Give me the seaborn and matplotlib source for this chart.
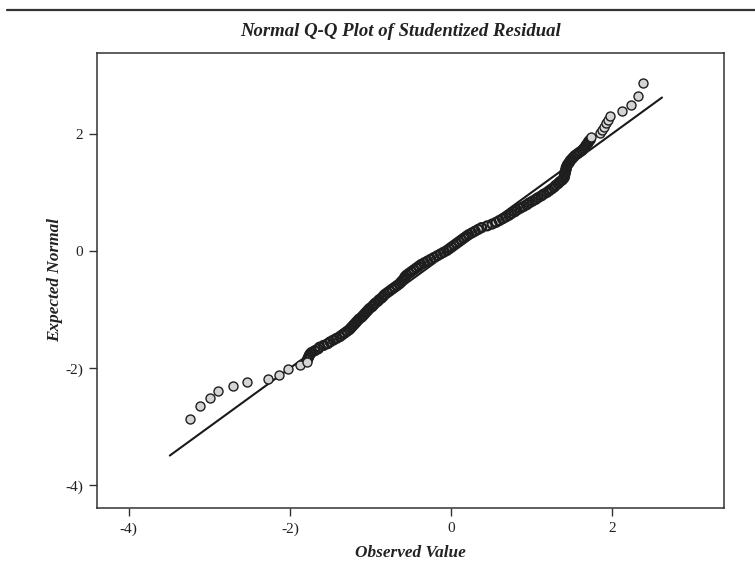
import matplotlib
matplotlib.use("Agg")
import matplotlib.pyplot as plt
import seaborn as sns
import pandas as pd
from matplotlib.lines import Line2D

lower_tail_obs = [-3.24, -3.11, -2.99, -2.89, -2.71, -2.53, -2.27, -2.14, -2.02, -1.87, -1.79]
lower_tail_exp = [-2.86, -2.64, -2.50, -2.39, -2.31, -2.23, -2.18, -2.11, -2.02, -1.94, -1.89]

band_exp = [-1.85, -1.82, -1.79, -1.76, -1.73, -1.70, -1.67, -1.64,
            -1.61, -1.58, -1.55, -1.52, -1.49, -1.46, -1.43, -1.40, -1.37,
            -1.34, -1.31, -1.28, -1.25, -1.22, -1.19, -1.16,
            -1.13, -1.10, -1.07, -1.04, -1.01, -0.98, -0.95, -0.92,
            -0.89, -0.86, -0.83, -0.80, -0.77, -0.74, -0.71,
            -0.68, -0.65, -0.62, -0.59, -0.56, -0.53, -0.50, -0.47, -0.44, -0.41,
            -0.38, -0.35, -0.32, -0.29, -0.26, -0.23, -0.20, -0.17, -0.14, -0.11,
            -0.08, -0.05, -0.02, 0.01, 0.04, 0.07, 0.10, 0.13, 0.16, 0.19, 0.22, 0.25, 0.28,
            0.31, 0.34, 0.37, 0.40, 0.43, 0.46, 0.49, 0.52, 0.55, 0.58,
            0.61, 0.64, 0.67, 0.70, 0.73, 0.76, 0.79, 0.82, 0.85, 0.88,
            0.91, 0.94, 0.97, 1.00, 1.03, 1.06, 1.09, 1.12, 1.15, 1.18, 1.21, 1.24,
            1.27, 1.30, 1.33, 1.36, 1.39, 1.42, 1.45,
            1.48, 1.51, 1.54, 1.57, 1.60, 1.63, 1.66, 1.69, 1.72, 1.75, 1.78, 1.81, 1.84, 1.87, 1.90]
band_obs = [-1.78, -1.77, -1.76, -1.75, -1.73, -1.69, -1.65, -1.63,
            -1.58, -1.53, -1.50, -1.46, -1.42, -1.38, -1.35, -1.32, -1.29,
            -1.26, -1.24, -1.22, -1.20, -1.18, -1.16, -1.14,
            -1.11, -1.09, -1.07, -1.05, -1.03, -1.01, -0.98, -0.96,
            -0.94, -0.91, -0.89, -0.86, -0.84, -0.82, -0.79,
            -0.76, -0.73, -0.70, -0.67, -0.64, -0.62, -0.60, -0.58, -0.57, -0.55,
            -0.52, -0.49, -0.46, -0.43, -0.40, -0.37, -0.33, -0.29, -0.25, -0.21,
            -0.17, -0.13, -0.09, -0.05, -0.02, 0.01, 0.04, 0.07, 0.10, 0.13, 0.16, 0.19, 0.22,
            0.26, 0.30, 0.34, 0.38, 0.45, 0.51, 0.56, 0.60, 0.64, 0.68,
            0.72, 0.75, 0.79, 0.82, 0.86, 0.90, 0.94, 0.97, 1.01, 1.05,
            1.08, 1.12, 1.15, 1.19, 1.22, 1.25, 1.28, 1.30, 1.33, 1.35, 1.38, 1.40,
            1.41, 1.41, 1.42, 1.42, 1.43, 1.43, 1.44,
            1.45, 1.47, 1.48, 1.50, 1.52, 1.54, 1.57, 1.60, 1.63, 1.65, 1.67, 1.68, 1.70, 1.71, 1.73]

upper_tail_obs = [1.74, 1.85, 1.88, 1.90, 1.92, 1.95, 1.97, 2.12, 2.23, 2.32, 2.38]
upper_tail_exp = [1.95, 2.01, 2.06, 2.12, 2.18, 2.23, 2.30, 2.39, 2.50, 2.64, 2.86]

ref_line = [-3.49, 2.62]

x_ticks = [-4, -2, 0, 2]
x_tick_labels = ["-4)", "-2)", "0", "2"]
y_ticks = [-4, -2, 0, 2]
y_tick_labels = ["-4)", "-2)", "0", "2"]

title = "Normal Q-Q Plot of Studentized Residual"
x_label = "Observed Value"
y_label = "Expected Normal"

# ---- build tables ----
tails = pd.DataFrame({
    "observed": lower_tail_obs + upper_tail_obs,
    "expected": lower_tail_exp + upper_tail_exp,
})
band = pd.DataFrame({"observed": band_obs, "expected": band_exp})
line_df = pd.DataFrame({"x": ref_line, "y": ref_line})

sns.set_style("white")
plt.rcParams["font.family"] = ["Liberation Serif", "DejaVu Serif"]

W, H = 755, 579
fig = plt.figure(figsize=(W / 100, H / 100), dpi=100)
ax = fig.add_axes([97.3 / W, 1 - 508.3 / H, (724 - 97.3) / W, (508.3 - 52.7) / H])

FILL = "#d4d4d4"
EDGE = "#1e1e1e"
S = 42

sns.lineplot(data=line_df, x="x", y="y", ax=ax, color="#1a1a1a", linewidth=1.5)
# dense band: fills first, then all outlines on top (overlapping outlines read as a dark band)
sns.scatterplot(data=band, x="observed", y="expected", ax=ax, s=S,
                color=FILL, linewidth=0, zorder=3)
sns.scatterplot(data=band, x="observed", y="expected", ax=ax, s=S,
                facecolor="none", edgecolor=EDGE, linewidth=1.6, zorder=4)
# isolated tail points
sns.scatterplot(data=tails, x="observed", y="expected", ax=ax, s=S,
                color=FILL, edgecolor=EDGE, linewidth=1.0, zorder=5)

ax.set_xlim(-4.39, 3.39)
ax.set_ylim(-4.39, 3.385)
ax.set_xticks(x_ticks)
ax.set_xticklabels(x_tick_labels)
ax.set_yticks(y_ticks)
ax.set_yticklabels(y_tick_labels)
ax.tick_params(axis="both", which="major", direction="out", length=6, width=1,
               color="#333333", labelsize=11, labelcolor="#222222", pad=4,
               bottom=True, left=True)
for sp in ax.spines.values():
    sp.set_visible(True)
    sp.set_color("#333333")
    sp.set_linewidth(1.1)

ax.set_xlabel(x_label, fontsize=12.4, fontstyle="italic", fontweight="bold",
              color="#222222", labelpad=7)
ax.set_ylabel(y_label, fontsize=12.4, fontstyle="italic", fontweight="bold",
              color="#222222", labelpad=2)

fig.text(401 / W, 1 - 31 / H, title, ha="center", va="center", fontsize=13.5,
         fontstyle="italic", fontweight="bold", color="#222222")

fig.add_artist(Line2D([7 / W, 1.0], [1 - 10 / H, 1 - 10 / H], transform=fig.transFigure,
                      color="#333333", linewidth=1.6))

fig.savefig("out.png", dpi=100, facecolor="white")
